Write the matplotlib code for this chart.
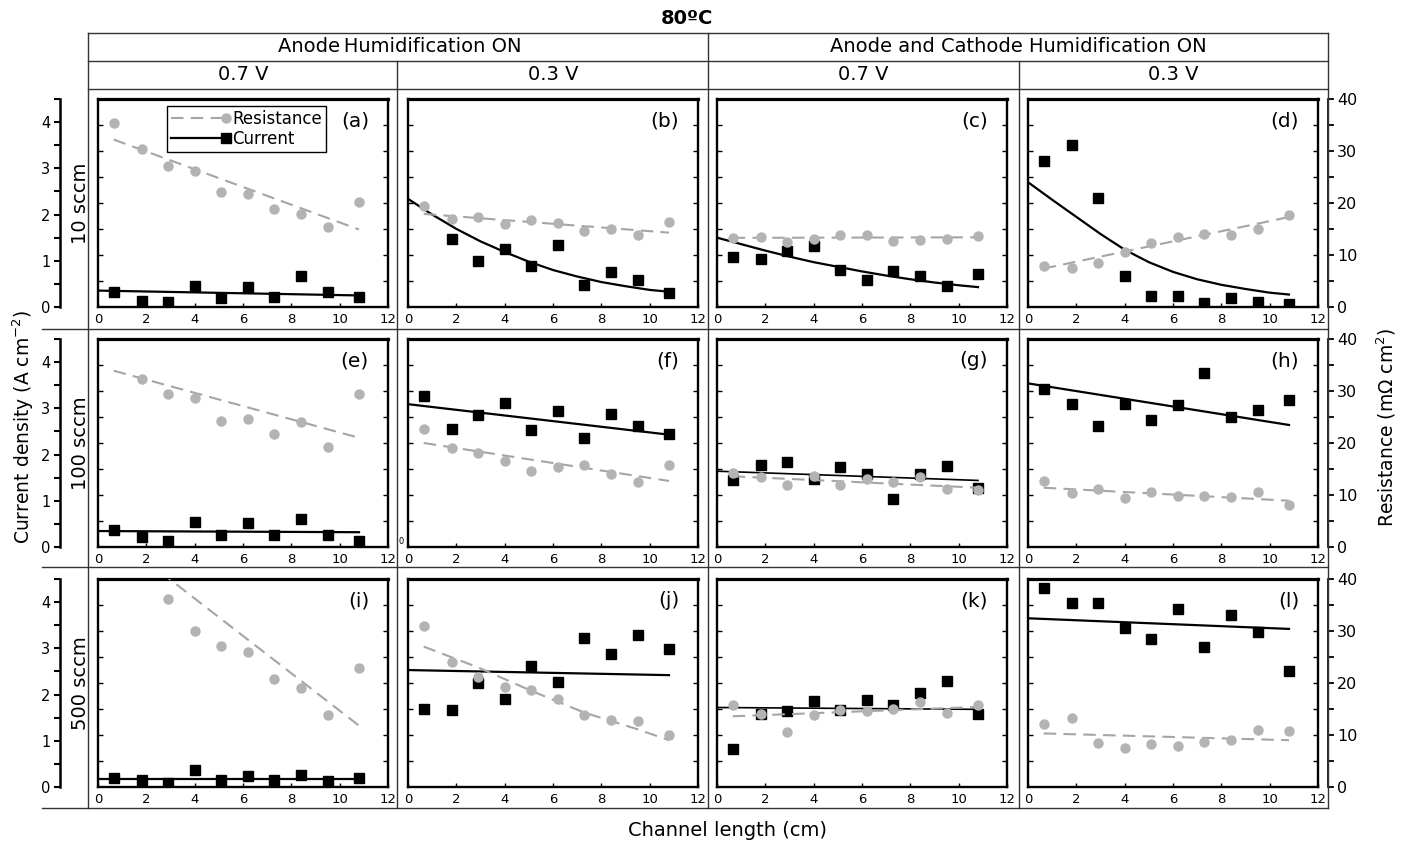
import numpy as np
import matplotlib
matplotlib.use("Agg")
import matplotlib.pyplot as plt
from matplotlib.lines import Line2D
from matplotlib.legend_handler import HandlerLine2D
from matplotlib.ticker import MultipleLocator

plt.rcParams['font.family'] = ['DejaVu Sans']
plt.rcParams['mathtext.default'] = 'regular'

# ---- data ----
x_pos = [0.65, 1.8, 2.9, 4.0, 5.1, 6.2, 7.3, 8.4, 9.5, 10.8]
nan = np.nan

res_a = [35.4, 30.4, 27.2, 26.1, 22.2, 21.7, 18.9, 17.8, 15.3, 20.1]
cur_a = [0.32, 0.12, 0.11, 0.45, 0.19, 0.43, 0.21, 0.67, 0.33, 0.22]
res_b = [19.4, 17.0, 17.4, 16.0, 16.8, 16.1, 14.7, 15.0, 13.9, 16.3]
cur_b = [nan, 1.48, 0.99, 1.26, 0.88, 1.35, 0.48, 0.75, 0.59, 0.30]
res_c = [13.3, 13.4, 12.5, 13.1, 13.8, 13.8, 12.6, 12.8, 13.1, 13.7]
cur_c = [1.08, 1.04, 1.21, 1.32, 0.81, 0.58, 0.77, 0.68, 0.45, 0.72]
res_d = [7.9, 7.5, 8.4, 10.6, 12.4, 13.4, 14.1, 13.8, 15.0, 17.6]
cur_d = [3.15, 3.50, 2.35, 0.66, 0.23, 0.23, 0.09, 0.20, 0.11, 0.07]
res_e = [nan, 32.3, 29.5, 28.7, 24.3, 24.7, 21.8, 24.0, 19.2, 29.4]
cur_e = [0.36, 0.22, 0.14, 0.55, 0.27, 0.51, 0.27, 0.60, 0.27, 0.13]
res_f = [22.7, 19.0, 18.1, 16.5, 14.7, 15.4, 15.7, 14.1, 12.5, 15.8]
cur_f = [3.26, 2.56, 2.86, 3.12, 2.54, 2.94, 2.36, 2.87, 2.61, 2.44]
res_g = [14.2, 13.5, 11.9, 13.7, 11.9, 13.0, 12.5, 13.5, 11.2, 10.9]
cur_g = [1.46, 1.78, 1.84, 1.47, 1.73, 1.57, 1.04, 1.57, 1.75, 1.28]
res_h = [12.7, 10.3, 11.2, 9.4, 10.6, 9.8, 9.8, 9.6, 10.6, 8.1]
cur_h = [3.42, 3.10, 2.61, 3.10, 2.74, 3.08, 3.76, 2.81, 2.97, 3.17]
res_i = [nan, nan, 36.2, 30.0, 27.1, 25.9, 20.8, 19.0, 13.9, 22.9]
cur_i = [0.20, 0.15, 0.08, 0.37, 0.16, 0.24, 0.16, 0.27, 0.13, 0.19]
res_j = [30.9, 24.1, 21.1, 19.2, 18.6, 16.9, 13.9, 12.9, 12.7, 10.0]
cur_j = [1.69, 1.67, 2.26, 1.90, 2.61, 2.27, 3.23, 2.87, 3.28, 2.98]
res_k = [15.8, 14.0, 10.5, 13.9, 14.8, 14.7, 15.0, 16.3, 14.2, 15.8]
cur_k = [0.83, 1.58, 1.64, 1.87, 1.66, 1.88, 1.77, 2.03, 2.30, 1.58]
res_l = [12.1, 13.2, 8.4, 7.5, 8.2, 7.9, 8.7, 9.0, 11.0, 10.8]
cur_l = [4.31, 3.99, 3.99, 3.43, 3.21, 3.86, 3.02, 3.73, 3.36, 2.52]

# fitted trend lines (x values, y values)
res_x = [0.65, 10.8]
cur_x = [0.0, 10.8]
curve_x = [0, 1, 2, 3, 4, 5, 6, 7, 8, 9, 10, 10.8]

res_fit_a = (res_x, [32.2, 14.9]); cur_fit_a = (cur_x, [0.355, 0.25])
res_fit_b = (res_x, [17.9, 14.3])
cur_fit_b = (curve_x, [2.34, 2.00, 1.69, 1.42, 1.19, 0.98, 0.80, 0.66, 0.54, 0.45, 0.37, 0.33])
res_fit_c = (res_x, [13.3, 13.4])
cur_fit_c = (curve_x, [1.50, 1.36, 1.22, 1.09, 0.97, 0.87, 0.77, 0.68, 0.60, 0.53, 0.47, 0.43])
res_fit_d = (res_x, [7.4, 17.3])
cur_fit_d = (curve_x, [2.70, 2.32, 1.95, 1.58, 1.24, 0.97, 0.76, 0.60, 0.48, 0.39, 0.31, 0.27])
res_fit_e = (res_x, [33.9, 21.0]); cur_fit_e = (cur_x, [0.345, 0.32])
res_fit_f = (res_x, [20.0, 12.7]); cur_fit_f = (cur_x, [3.09, 2.43])
res_fit_g = (res_x, [13.6, 11.4]); cur_fit_g = (cur_x, [1.64, 1.44])
res_fit_h = (res_x, [11.4, 8.9]); cur_fit_h = (cur_x, [3.54, 2.64])
res_fit_i = (res_x, [48.3, 11.8]); cur_fit_i = (cur_x, [0.18, 0.18])
res_fit_j = ([0.65, 2.9, 5.1, 7.3, 9.5, 10.8], [27.0, 23.0, 18.5, 14.3, 11.1, 9.0])
cur_fit_j = (cur_x, [2.53, 2.42])
res_fit_k = (res_x, [13.6, 15.4]); cur_fit_k = (cur_x, [1.72, 1.68])
res_fit_l = (res_x, [10.3, 9.0]); cur_fit_l = (cur_x, [3.65, 3.42])

letters = ['(a)', '(b)', '(c)', '(d)', '(e)', '(f)', '(g)', '(h)', '(i)', '(j)', '(k)', '(l)']
res_all = [res_a, res_b, res_c, res_d, res_e, res_f, res_g, res_h, res_i, res_j, res_k, res_l]
cur_all = [cur_a, cur_b, cur_c, cur_d, cur_e, cur_f, cur_g, cur_h, cur_i, cur_j, cur_k, cur_l]
res_fits = [res_fit_a, res_fit_b, res_fit_c, res_fit_d, res_fit_e, res_fit_f,
            res_fit_g, res_fit_h, res_fit_i, res_fit_j, res_fit_k, res_fit_l]
cur_fits = [cur_fit_a, cur_fit_b, cur_fit_c, cur_fit_d, cur_fit_e, cur_fit_f,
            cur_fit_g, cur_fit_h, cur_fit_i, cur_fit_j, cur_fit_k, cur_fit_l]

row_labels = ['10 sccm', '100 sccm', '500 sccm']
volt_labels = ['0.7 V', '0.3 V', '0.7 V', '0.3 V']
group_labels = ['Anode\u2009Humidification ON', 'Anode and Cathode Humidification ON']

# ---- layout (pixels) ----
W, H = 1404, 844
fig = plt.figure(figsize=(W / 100, H / 100), dpi=100)

def box(l, t, w, h):
    return [l / W, 1 - (t + h) / H, w / W, h / H]

def hline(y, x0, x1):
    fig.add_artist(Line2D([x0 / W, x1 / W], [1 - y / H, 1 - y / H], transform=fig.transFigure,
                          color='#333333', lw=1.0))

def vline(x, y0, y1):
    fig.add_artist(Line2D([x / W, x / W], [1 - y0 / H, 1 - y1 / H], transform=fig.transFigure,
                          color='#333333', lw=1.0))

def ftext(x, y, s, **kw):
    fig.text(x / W, 1 - y / H, s, ha=kw.pop('ha', 'center'), va=kw.pop('va', 'center'), **kw)

col_l = [98, 408, 717, 1028]
row_t = [99, 339, 579]
pw, ph = 290, 208

gray = '#b3b3b3'
dgray = '#a5a5a5'


class EndMarker(HandlerLine2D):
    def create_artists(self, *args, **kwargs):
        arts = super().create_artists(*args, **kwargs)
        for a in arts:
            a.set_markevery([2])
        return arts


for i in range(12):
    r, c = divmod(i, 4)
    ax = fig.add_axes(box(col_l[c], row_t[r], pw, ph))
    ax.set_xlim(0, 12)
    ax.set_ylim(0, 4.5)
    ax.set_yticks([])
    ax.set_xticks(range(0, 13, 2))
    ax.tick_params(axis='x', direction='in', length=3, width=1, labelsize=9.5, pad=4.5, colors='black')
    for s in ax.spines.values():
        s.set_linewidth(1.7)
    ax.spines['top'].set_linewidth(2.3)

    lw_cur = 1.2 if i in (6, 10) else 1.6
    ax.plot(cur_fits[i][0], cur_fits[i][1], color='black', lw=lw_cur)
    ax.plot(x_pos, cur_all[i], ls='none', marker='s', ms=7, color='black')

    axr = ax.twinx()
    axr.set_ylim(0, 40)
    axr.set_yticks(range(5, 40, 5))
    axr.yaxis.set_ticks_position('both')
    axr.tick_params(axis='y', direction='in', length=3.5, width=1, labelleft=False, labelright=False)
    for s in axr.spines.values():
        s.set_visible(False)
    axr.plot(res_fits[i][0], res_fits[i][1], color=dgray, lw=1.5, dashes=(6, 3.5))
    axr.plot(x_pos, res_all[i], ls='none', marker='o', ms=6.5, color=gray)

    ax.text(1 - 19 / pw, 1 - 22 / ph, letters[i], transform=ax.transAxes,
            ha='right', va='center', fontsize=14.5)

    if i == 0:
        h_res = Line2D([], [], color=dgray, lw=1.5, dashes=(6, 3.5), marker='o', ms=6.5,
                       mfc=gray, mec=gray)
        h_cur = Line2D([], [], color='black', lw=1.6, marker='s', ms=6.5)
        leg = axr.legend([h_res, h_cur], ['Resistance', 'Current'], loc='upper left',
                         bbox_to_anchor=((167 - 98) / pw, 1 - 7 / ph), borderaxespad=0,
                         fontsize=12, handlelength=3.3, handletextpad=0.35, borderpad=0.25,
                         labelspacing=0.1, fancybox=False, framealpha=1,
                         handler_map={Line2D: EndMarker()})
        leg.get_frame().set_edgecolor('black')
        leg.get_frame().set_linewidth(1.0)

# left and right scale axes for each row
for r in range(3):
    axl = fig.add_axes(box(60, row_t[r], 1, ph))
    axl.set_ylim(0, 4.5)
    axl.patch.set_visible(False)
    for s in ['top', 'right', 'bottom']:
        axl.spines[s].set_visible(False)
    axl.spines['left'].set_linewidth(1.8)
    axl.set_xticks([])
    axl.set_yticks([0, 1, 2, 3, 4])
    axl.yaxis.set_minor_locator(MultipleLocator(0.5))
    axl.tick_params(axis='y', which='both', direction='out', length=4.5, width=1.5,
                    labelsize=10.5, pad=2.5)

    axrr = fig.add_axes(box(1327, row_t[r], 1, ph))
    axrr.set_ylim(0, 40)
    axrr.patch.set_visible(False)
    for s in ['top', 'left', 'bottom']:
        axrr.spines[s].set_visible(False)
    axrr.spines['right'].set_linewidth(1.2)
    axrr.set_xticks([])
    axrr.yaxis.tick_right()
    axrr.set_yticks([0, 10, 20, 30, 40])
    axrr.yaxis.set_minor_locator(MultipleLocator(5))
    axrr.tick_params(axis='y', which='both', direction='out', length=4.5, width=1.3,
                     labelsize=11.5, pad=2)

# table lines
for y in (33, 61, 89):
    hline(y, 88, 1328)
for y in (329, 567, 808):
    hline(y, 42, 1328)
for x in (88, 708, 1328):
    vline(x, 33, 808)
for x in (397, 1019):
    vline(x, 61, 808)

# texts
ftext(687, 18, '80ºC', fontsize=14, fontweight='bold')
ftext(400, 47, group_labels[0], fontsize=14)
ftext(1018, 47, group_labels[1], fontsize=14)
for cx, s in zip([243, 553, 863, 1173], volt_labels):
    ftext(cx, 75, s, fontsize=14)
for r, s in enumerate(row_labels):
    ftext(80, row_t[r] + ph / 2, s, fontsize=14, rotation=90)
ftext(23, 427, 'Current density (A cm$^{-2}$)', fontsize=13.5, rotation=90)
ftext(1386, 427, 'Resistance (m\u03a9 cm$^{2}$)', fontsize=13.5, rotation=90)
ftext(728, 830, 'Channel length (cm)', fontsize=14)
ftext(401, 542, '0', fontsize=6)

fig.savefig('out.png', dpi=100)
